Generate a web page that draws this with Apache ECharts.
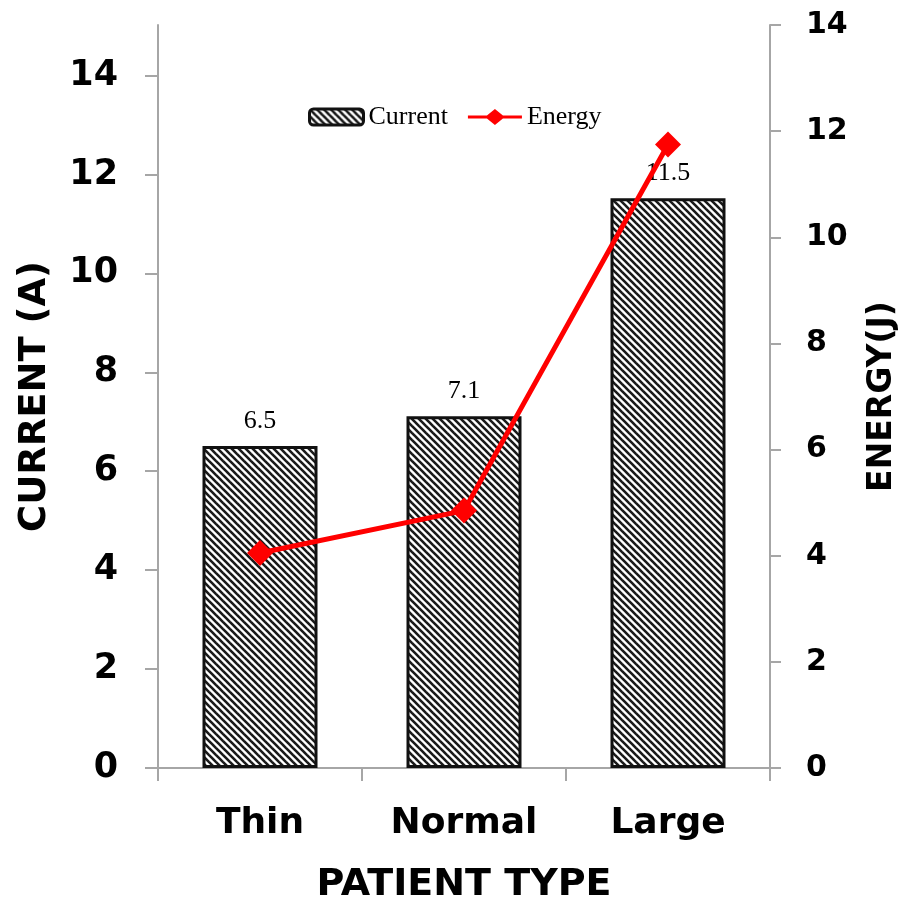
<!DOCTYPE html>
<html><head><meta charset="utf-8">
<script src="https://cdn.jsdelivr.net/npm/echarts@6/dist/echarts.min.js"></script>
<style>html,body{margin:0;padding:0;background:#fff}#c{width:904px;height:900px}</style>
</head><body><div id="c"></div>
<script>
var categories = ['Thin', 'Normal', 'Large'];
var currentValues = [6.5, 7.1, 11.5];
var energyValues = [4.05, 4.85, 11.75];
var leftTicks = [0, 2, 4, 6, 8, 10, 12, 14];
var rightTicks = [0, 2, 4, 6, 8, 10, 12, 14];

function makeStripes() {
  var s = 7;
  var c = document.createElement('canvas');
  c.width = s; c.height = s;
  var g = c.getContext('2d');
  g.fillStyle = '#ffffff'; g.fillRect(0, 0, s, s);
  g.strokeStyle = '#1a1a1a'; g.lineWidth = 2.6;
  for (var k = -1; k <= 1; k++) {
    g.beginPath(); g.moveTo(-1 + k * s, -1); g.lineTo(s + 1 + k * s, s + 1); g.stroke();
  }
  return c;
}
var stripe = { image: makeStripes(), repeat: 'repeat' };
var axisGray = '#a6a6a6';
var boldFont = 'DejaVu Sans';
var energyIcon = 'path://M0,6.5L19,6.5L27,0L35,6.5L54,6.5L54,9.5L35,9.5L27,16L19,9.5L0,9.5Z';

var chart = echarts.init(document.getElementById('c'), null, { renderer: 'canvas' });
chart.setOption({
  animation: false,
  backgroundColor: '#fff',
  grid: [
    { left: 158, right: 134, top: 25, bottom: 132, outerBoundsMode: 'none', containLabel: false },
    { left: 158, right: 134, top: 75.5, bottom: 132, outerBoundsMode: 'none', containLabel: false }
  ],
  legend: {
    left: 303, top: 99, itemWidth: 54, itemHeight: 16, itemGap: 20,
    textStyle: { fontFamily: 'Liberation Serif', fontSize: 26, color: '#000' },
    data: [
      { name: 'Current', itemStyle: { borderColor: '#111', borderWidth: 3 } },
      { name: 'Energy', icon: energyIcon, itemStyle: { color: '#ff0000', borderWidth: 0 } }
    ]
  },
  xAxis: [
    {
      type: 'category', gridIndex: 0, data: categories,
      axisLine: { lineStyle: { color: axisGray, width: 2 } },
      axisTick: { show: true, length: 13, lineStyle: { color: axisGray, width: 2 } },
      axisLabel: { margin: 38, fontFamily: boldFont, fontWeight: 'bold', fontSize: 36, color: '#000' },
      name: 'PATIENT TYPE', nameLocation: 'middle', nameGap: 98,
      nameTextStyle: { fontFamily: boldFont, fontWeight: 'bold', fontSize: 38, color: '#000' }
    },
    { type: 'category', gridIndex: 1, data: categories, show: false }
  ],
  yAxis: [
    {
      type: 'value', gridIndex: 0, min: 0, max: 15, position: 'left',
      axisLine: { show: true, lineStyle: { color: axisGray, width: 2 } },
      axisTick: { show: false }, axisLabel: { show: false }, splitLine: { show: false },
      name: 'CURRENT (A)', nameLocation: 'middle', nameGap: 104, nameRotate: 90,
      nameTextStyle: { fontFamily: boldFont, fontWeight: 'bold', fontSize: 37, color: '#000' }
    },
    {
      type: 'value', gridIndex: 0, min: 0, max: rightTicks[rightTicks.length - 1], interval: 2, position: 'right',
      axisLine: { show: true, lineStyle: { color: axisGray, width: 2 } },
      axisTick: { show: true, length: 11, lineStyle: { color: axisGray, width: 2 } },
      axisLabel: { margin: 36, fontFamily: boldFont, fontWeight: 'bold', fontSize: 30, color: '#000' },
      splitLine: { show: false },
      name: 'ENERGY(J)', nameLocation: 'middle', nameGap: 96, nameRotate: 90,
      nameTextStyle: { fontFamily: boldFont, fontWeight: 'bold', fontSize: 33, color: '#000' }
    },
    {
      type: 'value', gridIndex: 1, min: 0, max: leftTicks[leftTicks.length - 1], interval: 2, position: 'left',
      axisLine: { show: false },
      axisTick: { show: true, length: 13, lineStyle: { color: axisGray, width: 2 } },
      axisLabel: { margin: 40, fontFamily: boldFont, fontWeight: 'bold', fontSize: 35, color: '#000' },
      splitLine: { show: false }
    }
  ],
  series: [
    {
      name: 'Current', type: 'bar', xAxisIndex: 0, yAxisIndex: 0, data: currentValues,
      barWidth: 115,
      itemStyle: { color: stripe, borderColor: '#111', borderWidth: 3 },
      label: { show: true, position: 'top', distance: 12, fontFamily: 'Liberation Serif', fontSize: 26, color: '#000' },
      z: 2
    },
    {
      name: 'Energy', type: 'line', xAxisIndex: 0, yAxisIndex: 1, data: energyValues,
      symbol: 'diamond', symbolSize: 26,
      lineStyle: { color: '#ff0000', width: 5 },
      itemStyle: { color: '#ff0000' },
      z: 5
    }
  ]
});
</script></body></html>
